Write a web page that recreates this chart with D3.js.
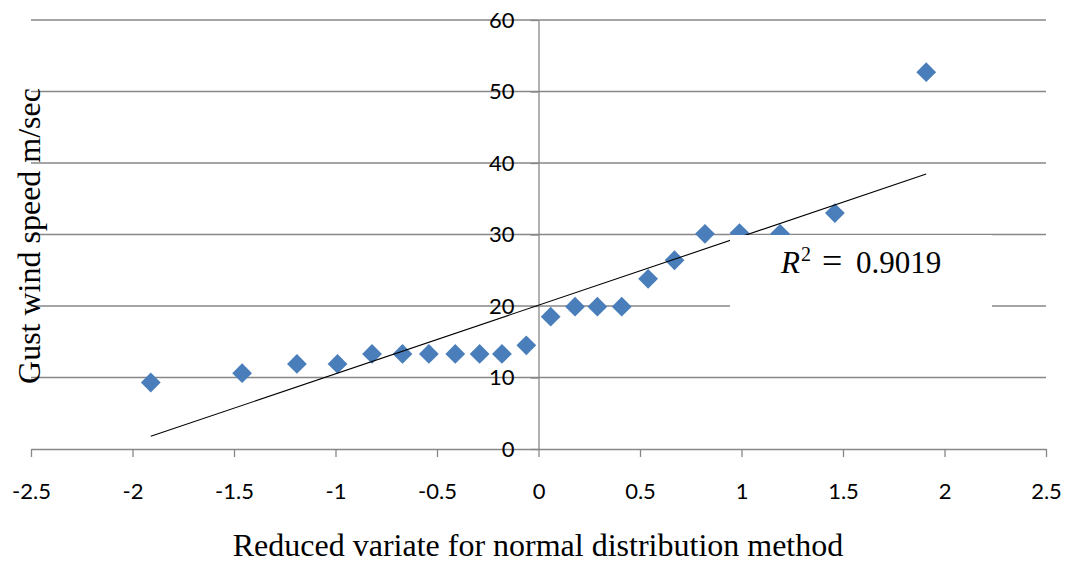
<!DOCTYPE html>
<html>
<head>
<meta charset="utf-8">
<script src="https://cdn.jsdelivr.net/npm/d3@7"></script>
<style>
  body { margin: 0; background: #ffffff; }
  svg { display: block; }
</style>
</head>
<body>
<svg id="chart" width="1068" height="564"></svg>
<script>
// Reduced variate (normal quantiles) and the observed gust wind speeds
const reducedVariate = [-1.91, -1.46, -1.19, -0.99, -0.82, -0.67, -0.54, -0.41, -0.29, -0.18, -0.06,
                         0.06, 0.18, 0.29, 0.41, 0.54, 0.67, 0.82, 0.99, 1.19, 1.46, 1.91];
const gustSpeed = [9.3, 10.6, 11.9, 11.9, 13.3, 13.3, 13.3, 13.3, 13.3, 13.3, 14.5,
                   18.5, 19.9, 19.9, 19.9, 23.8, 26.4, 30.1, 30.2, 30.1, 33.0, 52.7];
const xTickValues = [-2.5, -2, -1.5, -1, -0.5, 0, 0.5, 1, 1.5, 2, 2.5];
const yTickValues = [0, 10, 20, 30, 40, 50, 60];
const rSquaredText = "0.9019";

const gridColor = "#878787";
const markerColor = "#4a7ebb";

const svg = d3.select("#chart");

const x = d3.scaleLinear().domain([-2.5, 2.5]).range([31, 1046]);
const y = d3.scaleLinear().domain([0, 60]).range([449, 20]);

// Horizontal gridlines
svg.append("g")
  .selectAll("line")
  .data(yTickValues.filter(v => v > 0))
  .join("line")
  .attr("x1", x(-2.5)).attr("x2", x(2.5))
  .attr("y1", d => y(d)).attr("y2", d => y(d))
  .attr("stroke", gridColor)
  .attr("stroke-width", 1.3);

// X axis along y = 0
const xAxis = svg.append("g")
  .attr("transform", `translate(0,${y(0)})`)
  .call(d3.axisBottom(x)
    .tickValues(xTickValues)
    .tickFormat(d => String(d))
    .tickSize(8)
    .tickSizeOuter(0)
    .tickPadding(26));

// Y axis crossing at x = 0
const yAxis = svg.append("g")
  .attr("transform", `translate(${x(0)},0)`)
  .call(d3.axisLeft(y)
    .tickValues(yTickValues)
    .tickFormat(d => String(d))
    .tickSize(8)
    .tickSizeOuter(0)
    .tickPadding(16));

[xAxis, yAxis].forEach(g => {
  g.select(".domain").attr("stroke", gridColor).attr("stroke-width", 1.3);
  g.selectAll(".tick line").attr("stroke", gridColor).attr("stroke-width", 1.3);
  g.selectAll(".tick text")
    .attr("fill", "#000")
    .style("font-family", "Lato, 'Liberation Sans', sans-serif")
    .style("font-size", "22px");
});

// Least-squares trendline over the data range
const n = reducedVariate.length;
const mx = d3.mean(reducedVariate);
const my = d3.mean(gustSpeed);
let sxy = 0, sxx = 0;
for (let i = 0; i < n; i++) {
  sxy += (reducedVariate[i] - mx) * (gustSpeed[i] - my);
  sxx += (reducedVariate[i] - mx) ** 2;
}
const slope = sxy / sxx;
const intercept = my - slope * mx;
const xExtent = d3.extent(reducedVariate);

// Data markers (diamonds)
svg.append("g")
  .selectAll("path")
  .data(reducedVariate.map((v, i) => [v, gustSpeed[i]]))
  .join("path")
  .attr("d", d3.symbol(d3.symbolSquare, 196))
  .attr("transform", d => `translate(${x(d[0])},${y(d[1])}) rotate(45)`)
  .attr("fill", markerColor);

svg.append("line")
  .attr("x1", x(xExtent[0])).attr("y1", y(intercept + slope * xExtent[0]))
  .attr("x2", x(xExtent[1])).attr("y2", y(intercept + slope * xExtent[1]))
  .attr("stroke", "#000")
  .attr("stroke-width", 1.1);

// Trendline label with its white backing
svg.append("rect")
  .attr("x", 730).attr("y", 235)
  .attr("width", 262).attr("height", 82)
  .attr("fill", "#ffffff");

const rLabel = svg.append("text")
  .attr("y", 273)
  .style("font-family", "'Liberation Serif', 'DejaVu Serif', serif")
  .style("font-size", "31px")
  .attr("fill", "#000");
rLabel.append("tspan").attr("x", 781).style("font-style", "italic").text("R");
rLabel.append("tspan").attr("x", 801).attr("dy", -12).style("font-size", "20px").text("2");
rLabel.append("tspan").attr("x", 822).attr("dy", 12).style("font-size", "36px").text("=");
rLabel.append("tspan").attr("x", 856).text(rSquaredText);

// Axis titles
svg.append("text")
  .attr("x", 538).attr("y", 556)
  .attr("text-anchor", "middle")
  .style("font-family", "'Liberation Serif', 'Times New Roman', serif")
  .style("font-size", "32px")
  .attr("fill", "#000")
  .text("Reduced variate for normal distribution method");

svg.append("text")
  .attr("transform", "translate(40,236) rotate(-90)")
  .attr("text-anchor", "middle")
  .style("font-family", "'Liberation Serif', 'Times New Roman', serif")
  .style("font-size", "32px")
  .attr("fill", "#000")
  .text("Gust wind speed m/sec");
</script>
</body>
</html>
